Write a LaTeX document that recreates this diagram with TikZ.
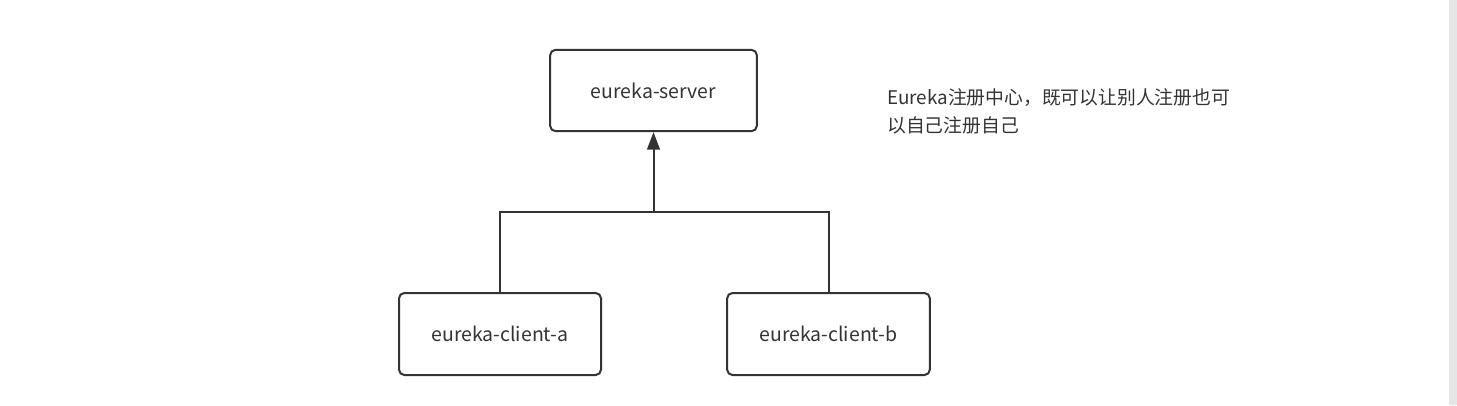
\documentclass[tikz,border=0pt]{standalone}
\usepackage{fontspec}
\setmainfont{Noto Sans CJK SC}
\usetikzlibrary{arrows.meta}
\definecolor{ink}{HTML}{333333}
\definecolor{bar}{HTML}{E5E6E8}
\begin{document}
\begin{tikzpicture}[x=0.75pt,y=-0.75pt,
  box/.style={draw=ink,line width=1.5pt,rounded corners=4pt,fill=white,text=ink,font=\fontsize{14.6}{16}\selectfont,inner sep=0pt},
  link/.style={draw=ink,line width=1.5pt},
  note/.style={text=ink,font=\fontsize{14.1}{21}\selectfont,align=left,inner sep=0pt}]
\useasboundingbox (0,0) rectangle (1457,405);
\fill[bar] (1449,0) rectangle (1457,405);
\node[box,minimum width=155pt,minimum height=61pt] (srv) at (653.5,90.5) {eureka-server};
\node[box,minimum width=151.5pt,minimum height=61.5pt] (ca) at (500,334) {eureka-client-a};
\node[box,minimum width=152pt,minimum height=61.5pt] (cb) at (828.5,334) {eureka-client-b};
\coordinate (j) at (653.5,212);
\draw[link] (ca.north) |- (j) -| (cb.north);
\draw[link,-{Triangle[length=13pt,width=9.5pt]}] (j) -- (srv.south);
\node[note,anchor=north west] (txt) at (887,88) {Eureka注册中心，既可以让别人注册也可\\以自己注册自己};
\end{tikzpicture}
\end{document}
